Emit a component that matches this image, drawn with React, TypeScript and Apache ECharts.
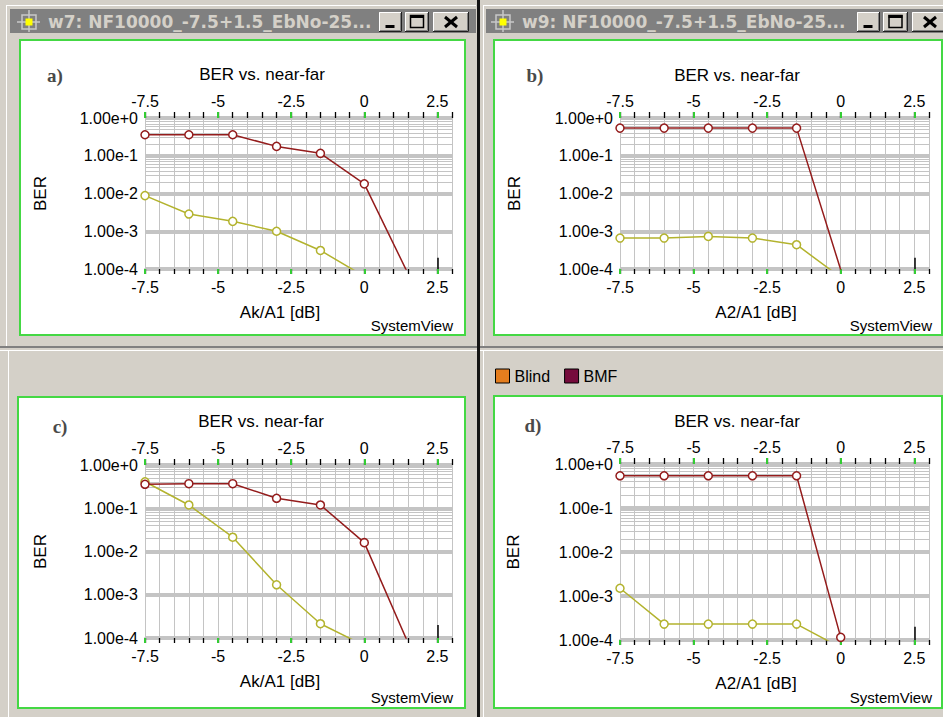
import React, { useEffect, useRef } from 'react';
import * as echarts from 'echarts';

// ---------- axis definitions ----------
const X_MIN = -7.5;
const X_MAX = 3;
const X_STEP = 0.5;
const X_MAJOR_VALUES = [-7.5, -5, -2.5, 0, 2.5];
const X_MAJOR_LABELS = ['-7.5', '-5', '-2.5', '0', '2.5'];
const Y_MIN = 1e-4;
const Y_MAX = 1;
const Y_DECADES = [1e-4, 1e-3, 1e-2, 1e-1, 1];
const Y_LABELS = ['1.00e-4', '1.00e-3', '1.00e-2', '1.00e-1', '1.00e+0'];
const Y_MINOR_MANTISSAS = [2, 3, 4, 5, 6, 7, 8, 9];
const MARKER_X = 2.5;
const MARKER_Y = [1e-4, 2e-4];

// ---------- data ----------
const X_SEVEN = [-7.5, -6, -4.5, -3, -1.5, 0, 1.5];
const X_SIX = [-7.5, -6, -4.5, -3, -1.5, 0];

const BMF_A = [0.36, 0.36, 0.36, 0.177, 0.116, 0.018, 7.4e-5];
const BLIND_A = [8.8e-3, 2.86e-3, 1.83e-3, 1.0e-3, 3.1e-4, 6.4e-5];

const BMF_B = [0.54, 0.54, 0.54, 0.54, 0.54, 9.5e-5];
const BLIND_B = [6.6e-4, 6.6e-4, 7.3e-4, 6.6e-4, 4.4e-4, 6.0e-5];

const BMF_C = [0.358, 0.37, 0.37, 0.17, 0.119, 0.016, 7.6e-5];
const BLIND_C = [0.41, 0.119, 0.0214, 1.7e-3, 2.14e-4, 6.7e-5];

const BMF_D = [0.54, 0.54, 0.54, 0.54, 0.54, 1.15e-4];
const BLIND_D = [1.5e-3, 2.3e-4, 2.3e-4, 2.3e-4, 2.3e-4, 6.7e-5];

const PANEL_LETTERS = ['a)', 'b)', 'c)', 'd)'];
const X_NAMES = ['Ak/A1 [dB]', 'A2/A1 [dB]', 'Ak/A1 [dB]', 'A2/A1 [dB]'];
const CHART_TITLE = 'BER vs. near-far';
const Y_NAME = 'BER';
const WATERMARK = 'SystemView';
const WINDOW_TITLES = ['w7: NF10000_-7.5+1.5_EbNo-25...', 'w9: NF10000_-7.5+1.5_EbNo-25...'];
const LEGEND_NAMES = ['Blind', 'BMF'];

const PANEL_DATA = [
  { bmfX: X_SEVEN, bmf: BMF_A, blindX: X_SIX, blind: BLIND_A },
  { bmfX: X_SIX, bmf: BMF_B, blindX: X_SIX, blind: BLIND_B },
  { bmfX: X_SEVEN, bmf: BMF_C, blindX: X_SIX, blind: BLIND_C },
  { bmfX: X_SIX, bmf: BMF_D, blindX: X_SIX, blind: BLIND_D },
];

// ---------- layout ----------
const LAYOUT = [
  { grid: { left: 145, top: 118, width: 307, height: 151 }, box: [20, 40, 445, 295], letter: [55, 75], title: [262, 74], mark: [453, 325], yGap: 96 },
  { grid: { left: 620, top: 118, width: 309, height: 151 }, box: [494, 40, 448, 295], letter: [535, 75], title: [737, 75], mark: [932, 325], yGap: 97 },
  { grid: { left: 145, top: 465, width: 307, height: 173 }, box: [18, 397, 447, 311], letter: [60, 426], title: [261, 421], mark: [453, 697], yGap: 96 },
  { grid: { left: 620, top: 464, width: 309, height: 176 }, box: [494, 396, 448, 312], letter: [533, 425], title: [737, 421], mark: [932, 697], yGap: 98 },
];

const FONT = '"Liberation Sans", Arial, sans-serif';
const RED = '#941c1c';
const YELLOW = '#b3b32e';
const GRID_GRAY = '#c4c4c4';
const GREEN = '#44d844';
const CHROME = '#d4d0c8';

const xLabel = (v: number) => {
  const k = X_MAJOR_VALUES.findIndex((m) => Math.abs(m - v) < 1e-6);
  return k >= 0 ? X_MAJOR_LABELS[k] : '';
};
const yLabel = (v: number) => {
  const k = Y_DECADES.findIndex((d) => Math.abs(Math.log10(d) - Math.log10(v)) < 1e-6);
  return k >= 0 ? Y_LABELS[k] : '';
};

function button(x: number, y: number, w: number, h: number, glyph: string): any[] {
  const els: any[] = [
    { type: 'rect', shape: { x, y, width: w, height: h }, style: { fill: CHROME }, z: 5 },
    { type: 'polyline', shape: { points: [[x + 0.5, y + h], [x + 0.5, y + 0.5], [x + w, y + 0.5]] }, style: { stroke: '#ffffff', lineWidth: 1, fill: null }, z: 6 },
    { type: 'polyline', shape: { points: [[x, y + h - 0.5], [x + w - 0.5, y + h - 0.5], [x + w - 0.5, y]] }, style: { stroke: '#202020', lineWidth: 1, fill: null }, z: 6 },
    { type: 'polyline', shape: { points: [[x + 1, y + h - 1.5], [x + w - 1.5, y + h - 1.5], [x + w - 1.5, y + 1]] }, style: { stroke: '#808080', lineWidth: 1, fill: null }, z: 6 },
  ];
  const cx = x + w / 2;
  const cy = y + h / 2;
  if (glyph === 'min') {
    els.push({ type: 'rect', shape: { x: cx - 5, y: cy + 3, width: 9, height: 3 }, style: { fill: '#000' }, z: 7 });
  } else if (glyph === 'max') {
    els.push({ type: 'rect', shape: { x: cx - 6.5, y: cy - 6.5, width: 13, height: 12 }, style: { fill: null, stroke: '#000', lineWidth: 1.5 }, z: 7 });
    els.push({ type: 'rect', shape: { x: cx - 7, y: cy - 7, width: 14, height: 3 }, style: { fill: '#000' }, z: 7 });
  } else {
    els.push({ type: 'line', shape: { x1: cx - 6, y1: cy - 5, x2: cx + 6, y2: cy + 5 }, style: { stroke: '#000', lineWidth: 3 }, z: 7 });
    els.push({ type: 'line', shape: { x1: cx - 6, y1: cy + 5, x2: cx + 6, y2: cy - 5 }, style: { stroke: '#000', lineWidth: 3 }, z: 7 });
  }
  return els;
}

function winIcon(cx: number, cy: number): any[] {
  return [
    { type: 'line', shape: { x1: cx - 12, y1: cy, x2: cx + 11, y2: cy }, style: { stroke: '#c8c8c8', lineWidth: 1.5 }, z: 6 },
    { type: 'line', shape: { x1: cx, y1: cy - 12, x2: cx, y2: cy + 10 }, style: { stroke: '#c8c8c8', lineWidth: 1.5 }, z: 6 },
    { type: 'rect', shape: { x: cx - 7, y: cy - 7, width: 14, height: 14 }, style: { fill: null, stroke: '#c8c8c8', lineWidth: 1.5 }, z: 6 },
    { type: 'rect', shape: { x: cx - 3.5, y: cy - 3.5, width: 7, height: 7 }, style: { fill: '#ffff00' }, z: 7 },
  ];
}

function buildGraphic(): any[] {
  const g: any[] = [];
  g.push({ type: 'rect', shape: { x: 0, y: 0, width: 943, height: 717 }, style: { fill: CHROME }, z: -20, silent: true });
  // window borders
  g.push({ type: 'line', shape: { x1: 6.5, y1: 5, x2: 6.5, y2: 346 }, style: { stroke: '#ffffff', lineWidth: 1 }, z: -19 });
  g.push({ type: 'line', shape: { x1: 6, y1: 5.5, x2: 476, y2: 5.5 }, style: { stroke: '#ffffff', lineWidth: 1 }, z: -19 });
  g.push({ type: 'line', shape: { x1: 483.5, y1: 5, x2: 483.5, y2: 346 }, style: { stroke: '#ffffff', lineWidth: 1 }, z: -19 });
  g.push({ type: 'line', shape: { x1: 483, y1: 5.5, x2: 943, y2: 5.5 }, style: { stroke: '#ffffff', lineWidth: 1 }, z: -19 });
  g.push({ type: 'rect', shape: { x: 0, y: 346, width: 943, height: 2 }, style: { fill: '#808080' }, z: -19 });
  g.push({ type: 'line', shape: { x1: 0, y1: 350.5, x2: 943, y2: 350.5 }, style: { stroke: '#ffffff', lineWidth: 1 }, z: -19 });
  g.push({ type: 'line', shape: { x1: 8.5, y1: 351, x2: 8.5, y2: 717 }, style: { stroke: '#ffffff', lineWidth: 1 }, z: -19 });
  g.push({ type: 'line', shape: { x1: 483.5, y1: 351, x2: 483.5, y2: 717 }, style: { stroke: '#ffffff', lineWidth: 1 }, z: -19 });
  g.push({ type: 'rect', shape: { x: 477, y: 0, width: 3, height: 717 }, style: { fill: '#141414' }, z: -18 });
  // title bars
  g.push({ type: 'rect', shape: { x: 10, y: 9, width: 466, height: 24 }, style: { fill: '#808080' }, z: 4 });
  g.push({ type: 'rect', shape: { x: 486, y: 9, width: 457, height: 24 }, style: { fill: '#808080' }, z: 4 });
  g.push(...winIcon(29, 22));
  g.push(...winIcon(503, 22));
  g.push({ type: 'text', x: 48, y: 22, style: { text: WINDOW_TITLES[0], fontFamily: '"DejaVu Sans", sans-serif', fontWeight: 'bold', fontSize: 17, fill: CHROME, align: 'left', verticalAlign: 'middle' }, z: 6 });
  g.push({ type: 'text', x: 522, y: 22, style: { text: WINDOW_TITLES[1], fontFamily: '"DejaVu Sans", sans-serif', fontWeight: 'bold', fontSize: 17, fill: CHROME, align: 'left', verticalAlign: 'middle' }, z: 6 });
  g.push(...button(379, 12, 23, 20, 'min'));
  g.push(...button(405, 12, 24, 20, 'max'));
  g.push(...button(433, 12, 36, 20, 'close'));
  g.push(...button(857, 12, 23, 20, 'min'));
  g.push(...button(883, 12, 25, 20, 'max'));
  g.push(...button(912, 12, 36, 20, 'close'));
  // panel boxes and texts
  LAYOUT.forEach((L, i) => {
    const [bx, by, bw, bh] = L.box;
    g.push({ type: 'rect', shape: { x: bx, y: by, width: bw, height: bh }, style: { fill: '#ffffff', stroke: GREEN, lineWidth: 2 }, z: -5 });
    g.push({ type: 'text', x: L.letter[0], y: L.letter[1], style: { text: PANEL_LETTERS[i], fontFamily: '"Liberation Serif", serif', fontWeight: 'bold', fontSize: 19, fill: '#4a4a4a', align: 'center', verticalAlign: 'middle' }, z: 10 });
    g.push({ type: 'text', x: L.title[0], y: L.title[1], style: { text: CHART_TITLE, fontFamily: FONT, fontSize: 17, fill: '#000', align: 'center', verticalAlign: 'middle' }, z: 10 });
    g.push({ type: 'text', x: L.mark[0], y: L.mark[1], style: { text: WATERMARK, fontFamily: FONT, fontSize: 15, fill: '#000', align: 'right', verticalAlign: 'middle' }, z: 10 });
  });
  return g;
}

function buildOption(): any {
  const grid: any[] = [];
  const xAxis: any[] = [];
  const yAxis: any[] = [];
  const series: any[] = [];

  const minorLines: any[] = [];
  Y_DECADES.slice(0, 4).forEach((d) => Y_MINOR_MANTISSAS.forEach((m) => minorLines.push({ yAxis: m * d })));

  LAYOUT.forEach((L, i) => {
    grid.push({ ...L.grid, containLabel: false, show: false });
    const base = { gridIndex: i, type: 'value', min: X_MIN, max: X_MAX };
    // bottom main axis
    xAxis.push({
      ...base,
      position: 'bottom',
      interval: X_STEP,
      axisLine: { show: true, onZero: false, lineStyle: { color: GRID_GRAY, width: 2 } },
      axisTick: { show: true, length: 5, lineStyle: { color: '#000', width: 1.3 } },
      axisLabel: { show: true, margin: 10, fontSize: 16, color: '#000', fontFamily: FONT, formatter: xLabel },
      splitLine: { show: true, lineStyle: { color: GRID_GRAY, width: 1 } },
      name: X_NAMES[i],
      nameLocation: 'middle',
      nameGap: 35,
      nameTextStyle: { fontSize: 17, color: '#000', fontFamily: FONT, padding: [0, 37, 0, 0] },
    });
    // bottom green major ticks
    xAxis.push({
      ...base,
      position: 'bottom',
      interval: 2.5,
      axisLine: { show: false, onZero: false },
      axisTick: { show: true, length: 5, lineStyle: { color: '#33cc33', width: 2 }, customValues: X_MAJOR_VALUES },
      axisLabel: { show: false },
      splitLine: { show: false },
    });
    // top main axis
    xAxis.push({
      ...base,
      position: 'top',
      interval: X_STEP,
      axisLine: { show: false, onZero: false },
      axisTick: { show: true, length: 6, lineStyle: { color: '#000', width: 1.3 } },
      axisLabel: { show: true, margin: 9, fontSize: 16, color: '#000', fontFamily: FONT, formatter: xLabel },
      splitLine: { show: false },
    });
    // top green major ticks
    xAxis.push({
      ...base,
      position: 'top',
      interval: 2.5,
      axisLine: { show: false, onZero: false },
      axisTick: { show: true, length: 6, lineStyle: { color: '#33cc33', width: 2 }, customValues: X_MAJOR_VALUES },
      axisLabel: { show: false },
      splitLine: { show: false },
    });
    yAxis.push({
      gridIndex: i,
      type: 'log',
      logBase: 10,
      min: Y_MIN,
      max: Y_MAX,
      axisLine: { show: true, lineStyle: { color: GRID_GRAY, width: 1 } },
      axisTick: { show: false },
      axisLabel: { show: true, margin: 7, fontSize: 16, color: '#000', fontFamily: FONT, formatter: yLabel },
      splitLine: { show: true, lineStyle: { color: GRID_GRAY, width: 4 } },
      minorTick: { show: false },
      name: Y_NAME,
      nameLocation: 'middle',
      nameGap: L.yGap,
      nameTextStyle: { fontSize: 17, color: '#000', fontFamily: FONT },
    });

    const D = PANEL_DATA[i];
    series.push({
      type: 'line',
      name: 'grid',
      xAxisIndex: 4 * i,
      yAxisIndex: i,
      data: [],
      silent: true,
      z: 1,
      markLine: {
        silent: true,
        z: 1,
        symbol: ['none', 'none'],
        label: { show: false },
        emphasis: { disabled: true },
        lineStyle: { color: GRID_GRAY, width: 1, type: 'solid' },
        data: [
          ...minorLines,
          [
            { coord: [MARKER_X, MARKER_Y[0]], lineStyle: { color: '#000', width: 1.5, type: 'solid' } },
            { coord: [MARKER_X, MARKER_Y[1]] },
          ],
        ],
      },
    });
    series.push({
      type: 'line',
      name: LEGEND_NAMES[0],
      xAxisIndex: 4 * i,
      yAxisIndex: i,
      data: D.blindX.map((x, k) => [x, D.blind[k]]),
      symbol: 'circle',
      symbolSize: 8,
      showAllSymbol: true,
      lineStyle: { color: YELLOW, width: 1.5 },
      itemStyle: { color: '#ffffff', borderColor: YELLOW, borderWidth: 1.5 },
      z: 3,
    });
    series.push({
      type: 'line',
      name: LEGEND_NAMES[1],
      xAxisIndex: 4 * i,
      yAxisIndex: i,
      data: D.bmfX.map((x, k) => [x, D.bmf[k]]),
      symbol: 'circle',
      symbolSize: 8,
      showAllSymbol: true,
      lineStyle: { color: RED, width: 1.5 },
      itemStyle: { color: '#ffffff', borderColor: RED, borderWidth: 1.5 },
      z: 4,
    });
  });

  return {
    animation: false,
    backgroundColor: CHROME,
    grid,
    xAxis,
    yAxis,
    series,
    legend: {
      left: 495,
      top: 368,
      padding: 0,
      itemWidth: 14,
      itemHeight: 14,
      itemGap: 14,
      icon: 'rect',
      selectedMode: false,
      textStyle: { fontSize: 16, color: '#000', fontFamily: FONT },
      data: [
        { name: LEGEND_NAMES[0], itemStyle: { color: '#e47d1e', borderColor: '#000', borderWidth: 1 } },
        { name: LEGEND_NAMES[1], itemStyle: { color: '#760b3c', borderColor: '#000', borderWidth: 1 } },
      ],
    },
    graphic: { elements: buildGraphic() },
  };
}

export default function App() {
  const ref = useRef<HTMLDivElement>(null);
  useEffect(() => {
    if (!ref.current) return;
    const chart = echarts.init(ref.current, undefined, { renderer: 'svg' });
    chart.setOption(buildOption());
    return () => chart.dispose();
  }, []);
  return (
    <div
      ref={ref}
      style={{ position: 'fixed', left: 0, top: 0, width: 943, height: 717, background: CHROME }}
    />
  );
}
